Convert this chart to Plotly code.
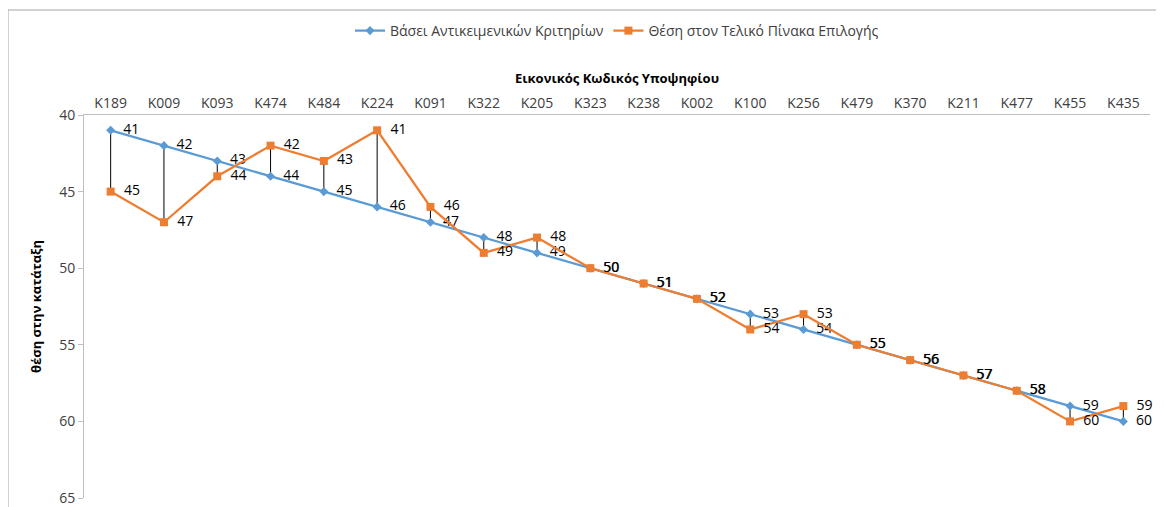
import plotly.graph_objects as go

categories = ["K189", "K009", "K093", "K474", "K484", "K224", "K091", "K322", "K205", "K323",
              "K238", "K002", "K100", "K256", "K479", "K370", "K211", "K477", "K455", "K435"]
objective_rank = [41, 42, 43, 44, 45, 46, 47, 48, 49, 50, 51, 52, 53, 54, 55, 56, 57, 58, 59, 60]
final_rank = [45, 47, 44, 42, 43, 41, 46, 49, 48, 50, 51, 52, 54, 53, 55, 56, 57, 58, 60, 59]

blue = "#5B9BD5"
orange = "#ED7D31"
font = "Open Sans"

# drop lines between the two series
dx, dy = [], []
for c, a, b in zip(categories, objective_rank, final_rank):
    if a != b:
        dx += [c, c, None]
        dy += [a, b, None]

fig = go.Figure()
fig.add_trace(go.Scatter(x=dx, y=dy, mode="lines", line=dict(color="black", width=1),
                         showlegend=False, hoverinfo="skip"))
fig.add_trace(go.Scatter(
    x=categories, y=objective_rank, mode="lines+markers+text",
    name="Βάσει Αντικειμενικών Κριτηρίων",
    line=dict(color=blue, width=2.25),
    marker=dict(symbol="diamond", size=7, color=blue),
    text=[f"  {v}" for v in objective_rank], textposition="middle right",
    textfont=dict(family=font, size=14, color="#000000"), cliponaxis=False,
))
fig.add_trace(go.Scatter(
    x=categories, y=final_rank, mode="lines+markers+text",
    name="Θέση στον Τελικό Πίνακα Επιλογής",
    line=dict(color=orange, width=2.25),
    marker=dict(symbol="square", size=8, color=orange),
    text=[f"  {v}" for v in final_rank], textposition="middle right",
    textfont=dict(family=font, size=14, color="#000000"), cliponaxis=False,
))

W, H = 1156, 499  # page has an 8px body margin
fig.update_layout(
    width=W, height=H,
    paper_bgcolor="white", plot_bgcolor="white",
    margin=dict(l=76, r=14, t=107, b=9, autoexpand=False),
    font=dict(family=font, size=13, color="#404040"),
    legend=dict(orientation="h", x=0.5, xanchor="center", y=1 - 23 / H, yref="container",
                yanchor="middle", font=dict(size=14, color="#404040"),
                bgcolor="rgba(0,0,0,0)", traceorder="normal", itemwidth=30),
    xaxis=dict(
        side="top", type="category", categoryorder="array", categoryarray=categories,
        showgrid=False, showline=True, linecolor="#BFBFBF", linewidth=1, automargin=False,
        ticks="", tickfont=dict(size=14, color="#404040"),
        title=dict(text="<b>Εικονικός Κωδικός Υποψηφίου</b>", font=dict(size=13, color="#000000"),
                   standoff=6),
        range=[-0.5, 19.5],
    ),
    yaxis=dict(
        range=[65, 40], tickvals=[40, 45, 50, 55, 60, 65], automargin=False,
        showgrid=False, zeroline=False, showline=True, linecolor="#BFBFBF", linewidth=1,
        ticks="outside", ticklen=5, tickcolor="#BFBFBF",
        tickfont=dict(size=14, color="#404040"),
        title=dict(text="<b>θέση στην κατάταξη</b>", font=dict(size=13, color="#000000"),
                   standoff=14),
    ),
    shapes=[dict(type="rect", xref="paper", yref="paper",
                 x0=(8 - 84) / 1066, x1=(1158 - 84) / 1066,
                 y0=-10 / 383, y1=(498 - 10) / 383,
                 line=dict(color="#A6A6A6", width=1), fillcolor="rgba(0,0,0,0)", layer="below")],
)

fig.write_html("out.html")
